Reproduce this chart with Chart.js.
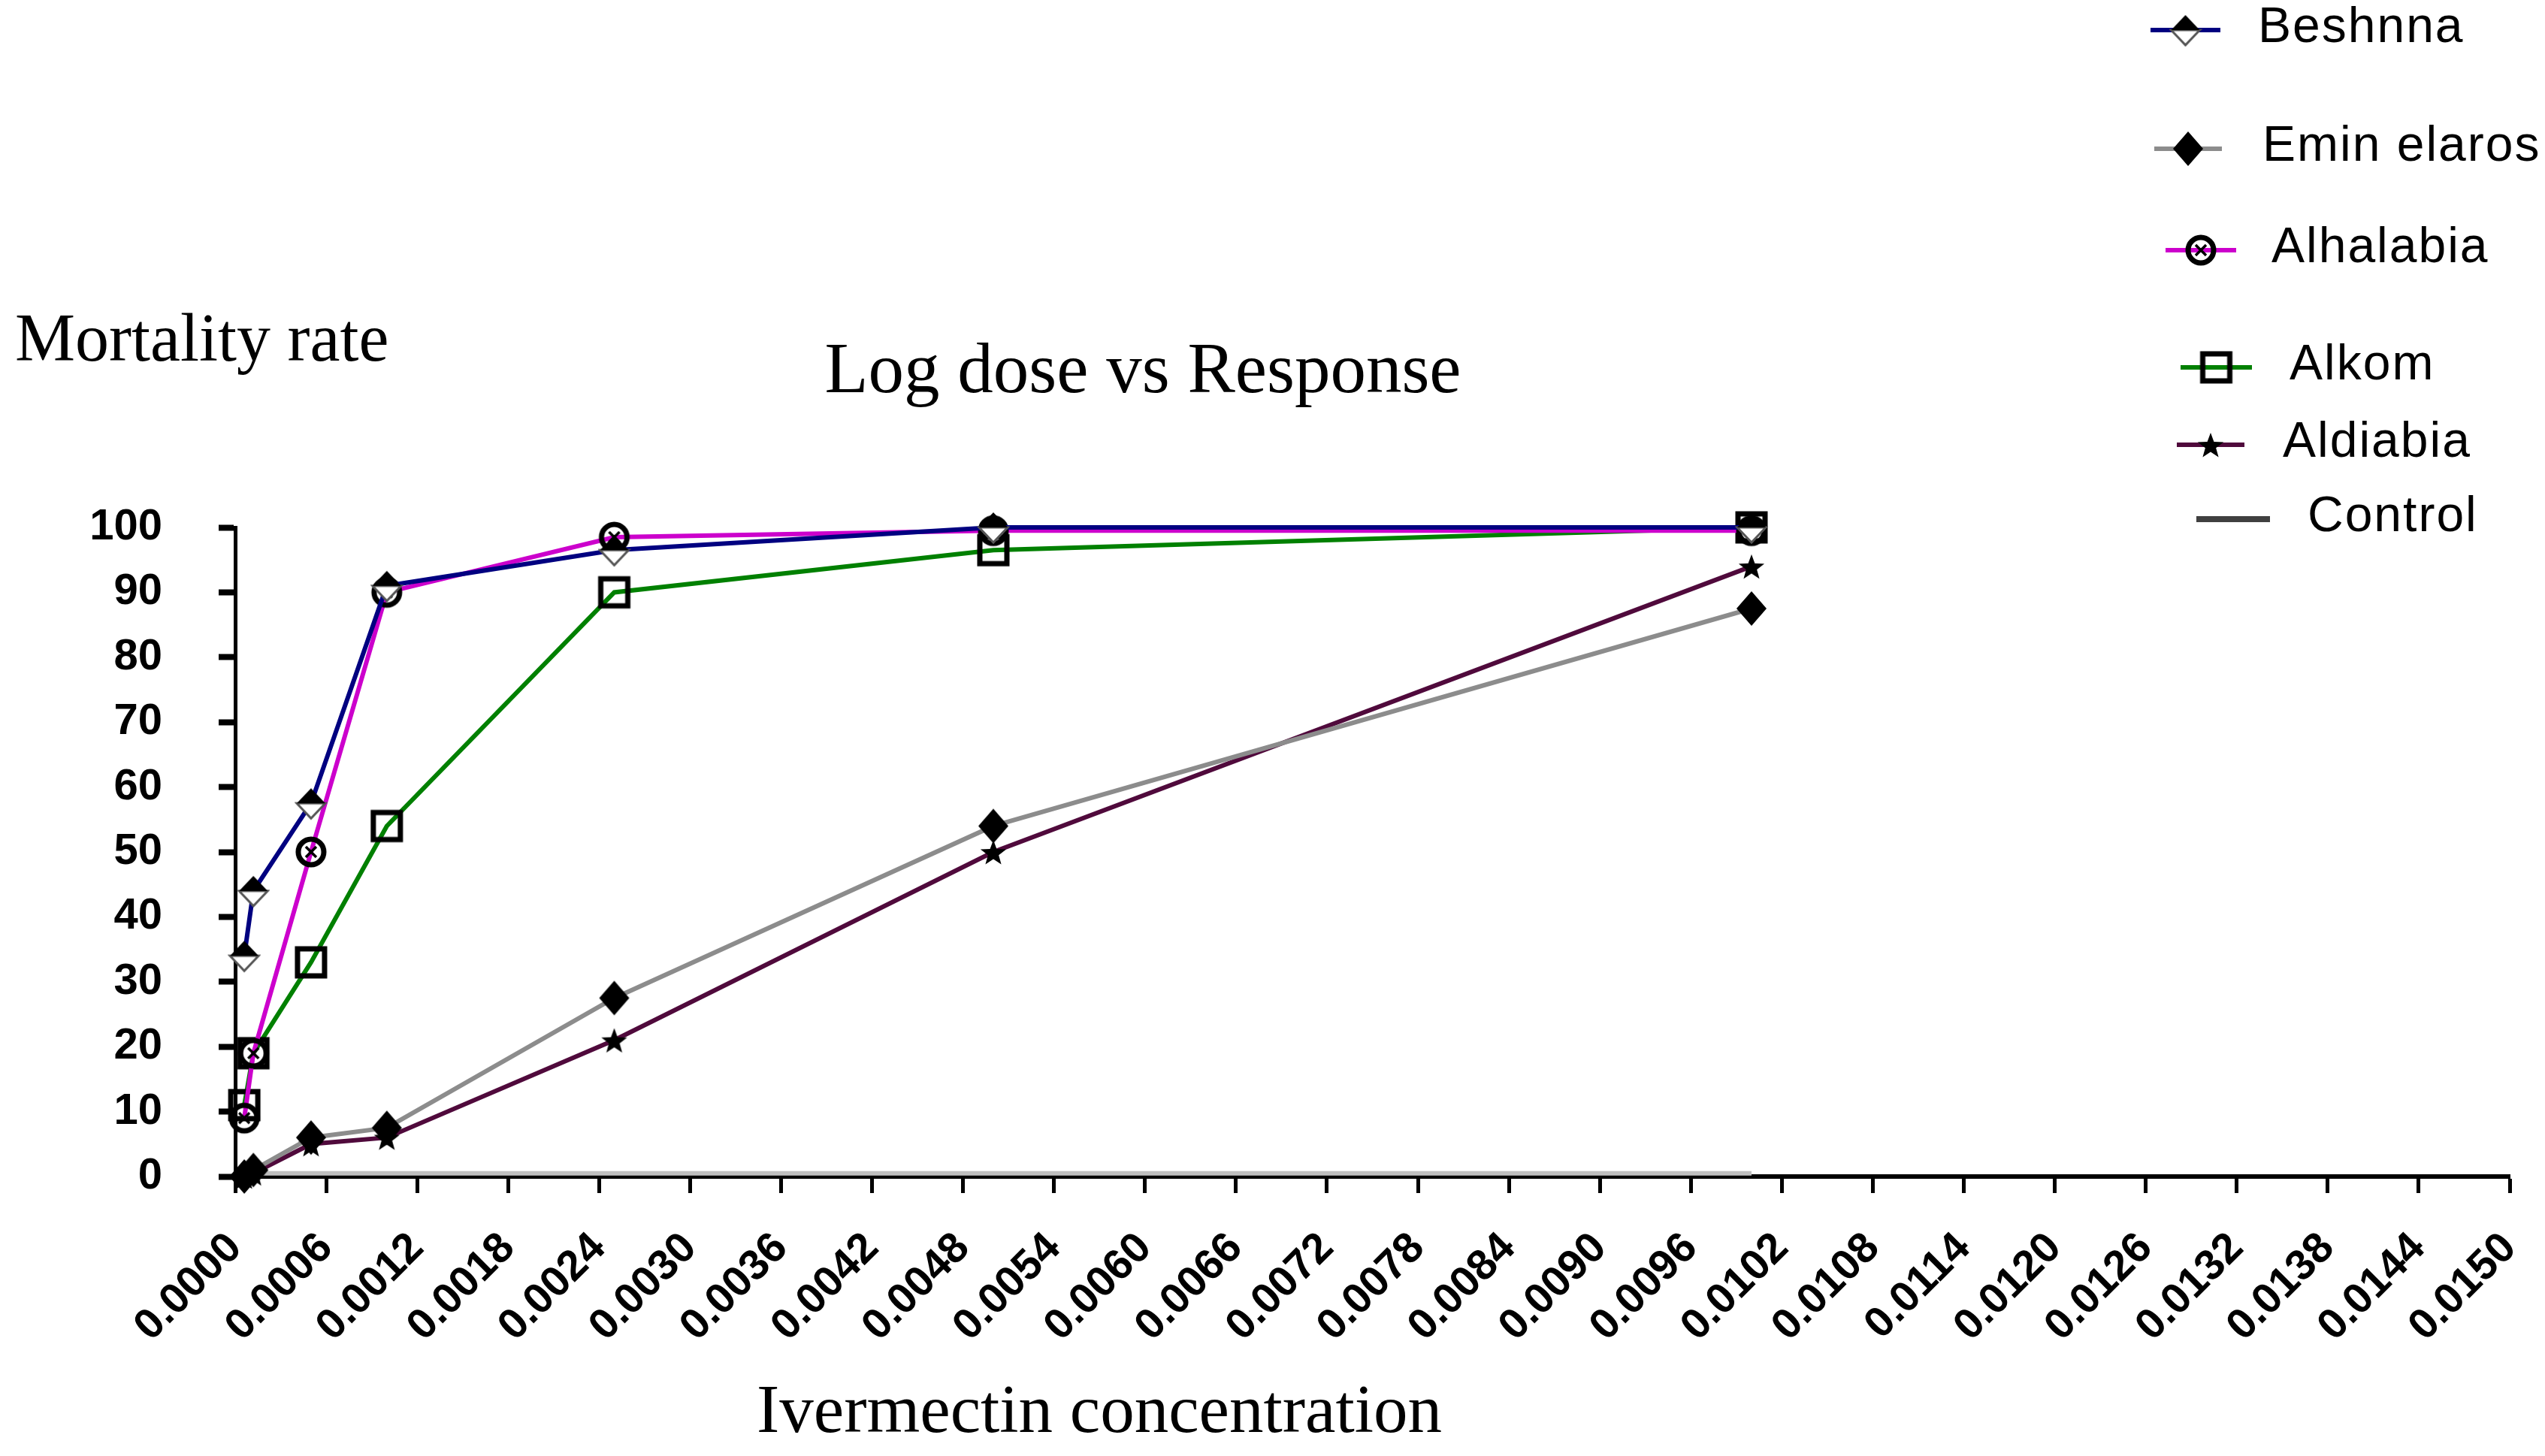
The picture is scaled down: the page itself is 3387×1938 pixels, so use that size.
<!DOCTYPE html>
<html>
<head>
<meta charset="utf-8">
<script src="https://cdn.jsdelivr.net/npm/chart.js@4.4.1/dist/chart.umd.min.js"></script>
<style>
html,body{margin:0;padding:0;background:#fff;}
#wrap{width:3387px;height:1938px;position:relative;}
</style>
</head>
<body>
<div id="wrap"><canvas id="c" width="3387" height="1938"></canvas></div>
<script>
// ---------------- DATA ----------------
const doses = [0.00006, 0.00012, 0.0005, 0.001, 0.0025, 0.005, 0.01];
const seriesNames = ["Beshnna", "Emin elaros", "Alhalabia", "Alkom", "Aldiabia", "Control"];
const beshnna    = [34, 44, 57.5, 91, 96.5, 100, 100];
const eminElaros = [0, 1, 6, 7.5, 27.5, 54, 87.5];
const alhalabia  = [9, 19, 50, 90, 98.5, 99.5, 99.5];
const alkom      = [11, 19, 33, 54, 90, 96.5, 100];
const aldiabia   = [0, 0.5, 5, 6, 21, 50, 94];
const control    = [0.5, 0.5, 0.5, 0.5, 0.5, 0.5, 0.5];
const xTickValues = [0.0000,0.0006,0.0012,0.0018,0.0024,0.0030,0.0036,0.0042,0.0048,0.0054,0.0060,0.0066,0.0072,0.0078,0.0084,0.0090,0.0096,0.0102,0.0108,0.0114,0.0120,0.0126,0.0132,0.0138,0.0144,0.0150];
const yTickValues = [0,10,20,30,40,50,60,70,80,90,100];
const chartTitle = "Log dose vs Response";
const yAxisTitle = "Mortality rate";
const xAxisTitle = "Ivermectin concentration";

// ---------------- MARKERS ----------------
function mk(w,h){const c=document.createElement('canvas');c.width=w;c.height=h;return c;}
function halfDiamond(){
  const w=38,h=40,c=mk(w+6,h+6),x=c.getContext('2d'),cx=(w+6)/2,cy=(h+6)/2;
  x.beginPath();x.moveTo(cx-w/2,cy);x.lineTo(cx,cy+h/2);x.lineTo(cx+w/2,cy);x.closePath();
  x.fillStyle='#fff';x.fill();x.lineWidth=3;x.strokeStyle='#555';x.stroke();
  x.beginPath();x.moveTo(cx-w/2,cy);x.lineTo(cx,cy-h/2);x.lineTo(cx+w/2,cy);x.closePath();
  x.fillStyle='#000';x.fill();
  return c;
}
function fullDiamond(){
  const w=40,h=46,c=mk(w+4,h+4),x=c.getContext('2d'),cx=(w+4)/2,cy=(h+4)/2;
  x.beginPath();x.moveTo(cx-w/2,cy);x.lineTo(cx,cy-h/2);x.lineTo(cx+w/2,cy);x.lineTo(cx,cy+h/2);x.closePath();
  x.fillStyle='#000';x.fill();
  return c;
}
function ringCross(){
  const s=44,c=mk(s,s),x=c.getContext('2d'),r=17;
  x.beginPath();x.arc(s/2,s/2,r,0,Math.PI*2);x.lineWidth=7;x.strokeStyle='#000';x.stroke();
  x.lineWidth=3.5;const d=7;
  x.beginPath();x.moveTo(s/2-d,s/2-d);x.lineTo(s/2+d,s/2+d);x.moveTo(s/2+d,s/2-d);x.lineTo(s/2-d,s/2+d);x.stroke();
  return c;
}
function openSquare(){
  const s=46,c=mk(s,s),x=c.getContext('2d');
  x.lineWidth=7;x.strokeStyle='#000';x.strokeRect(5,5,s-10,s-10);
  return c;
}
function star(){
  const s=38,c=mk(s,s),x=c.getContext('2d'),R=18,r=7.5;
  x.beginPath();
  for(let i=0;i<10;i++){const a=-Math.PI/2+i*Math.PI/5,rr=i%2?r:R;const px=s/2+rr*Math.cos(a),py=s/2+2+rr*Math.sin(a);i?x.lineTo(px,py):x.moveTo(px,py);}
  x.closePath();x.fillStyle='#000';x.fill();
  return c;
}
const markers=[halfDiamond(),fullDiamond(),ringCross(),openSquare(),star(),false];
const colors=['#000080','#8c8c8c','#cc00cc','#008000','#500a3c','#c0c0c0'];
const legendColors=['#000080','#8c8c8c','#cc00cc','#008000','#500a3c','#404040'];
const seriesValues=[beshnna,eminElaros,alhalabia,alkom,aldiabia,control];

const datasets=seriesValues.map((vals,i)=>({
  label:seriesNames[i],
  data:doses.map((d,j)=>({x:d,y:vals[j]})),
  borderColor:colors[i],
  backgroundColor:colors[i],
  borderWidth:6,
  pointStyle:markers[i],
  pointRadius:markers[i]?20:0,
  pointHoverRadius:markers[i]?20:0,
  tension:0,
  clip:false
}));

// ---------------- PLUGINS ----------------
const legendLayout=[
  {x1:2862,x2:2955,y:40,tx:3005},
  {x1:2867,x2:2957,y:198,tx:3011},
  {x1:2882,x2:2976,y:333,tx:3023},
  {x1:2902,x2:2997,y:489,tx:3047},
  {x1:2897,x2:2987,y:592,tx:3038},
  {x1:2923,x2:3021,y:691,tx:3071}
];
const customLegend={
  id:'customLegend',
  afterDraw(chart){
    const ctx=chart.ctx;
    ctx.save();
    chart.data.datasets.forEach((ds,i)=>{
      const p=legendLayout[i];
      ctx.beginPath();ctx.moveTo(p.x1,p.y);ctx.lineTo(p.x2,p.y);
      ctx.lineWidth=i===5?8:6;ctx.strokeStyle=legendColors[i];ctx.stroke();
      if(markers[i]){const m=markers[i];ctx.drawImage(m,(p.x1+p.x2)/2-m.width/2,p.y-m.height/2);}
      ctx.fillStyle='#000';ctx.font='66px "Liberation Sans", Arial, sans-serif';
      ctx.letterSpacing='2px';
      ctx.textAlign='left';ctx.textBaseline='middle';
      ctx.fillText(ds.label,p.tx,p.y-2);
    });
    ctx.restore();
  }
};
const texts={
  id:'texts',
  afterDraw(chart){
    const ctx=chart.ctx;
    ctx.save();ctx.fillStyle='#000';ctx.textBaseline='alphabetic';ctx.letterSpacing='0px';
    ctx.font='90px "Liberation Serif", "Times New Roman", serif';
    ctx.textAlign='left';ctx.fillText(yAxisTitle,20,480);
    ctx.font='95px "Liberation Serif", "Times New Roman", serif';
    ctx.textAlign='center';ctx.fillText(chartTitle,1521,522);
    ctx.font='91px "Liberation Serif", "Times New Roman", serif';
    ctx.fillText(xAxisTitle,1463,1906);
    ctx.restore();
  }
};

// ---------------- CHART ----------------
new Chart(document.getElementById('c'),{
  type:'line',
  data:{datasets},
  plugins:[customLegend,texts],
  options:{
    responsive:false,
    devicePixelRatio:1,
    animation:false,
    events:[],
    layout:{padding:{top:702,right:47,left:0,bottom:0}},
    plugins:{legend:{display:false},title:{display:false},tooltip:{enabled:false}},
    scales:{
      x:{
        type:'linear',min:0,max:0.015,
        afterBuildTicks(s){s.ticks=xTickValues.map(v=>({value:v}));},
        afterFit(s){s.height=1938-1566;s.paddingLeft=0;s.paddingRight=0;},
        border:{display:true,color:'#000',width:6},
        grid:{drawOnChartArea:false,drawTicks:true,tickLength:22,tickWidth:5,tickColor:'#000'},
        ticks:{autoSkip:false,minRotation:45,maxRotation:45,padding:40,color:'#000',
          font:{family:'"Liberation Sans", Arial, sans-serif',size:57,weight:'bold'},
          callback:(v)=>Number(v).toFixed(4)}
      },
      y:{
        type:'linear',min:0,max:100,
        afterBuildTicks(s){s.ticks=yTickValues.map(v=>({value:v}));},
        afterFit(s){s.width=313;s.paddingTop=0;s.paddingBottom=0;},
        border:{display:true,color:'#000',width:5},
        grid:{drawOnChartArea:false,drawTicks:true,tickLength:22,tickWidth:8,tickColor:'#000'},
        ticks:{padding:75,color:'#000',
          font:{family:'"Liberation Sans", Arial, sans-serif',size:58,weight:'bold'},
          callback:(v)=>String(v)}
      }
    }
  }
});
</script>
</body>
</html>
